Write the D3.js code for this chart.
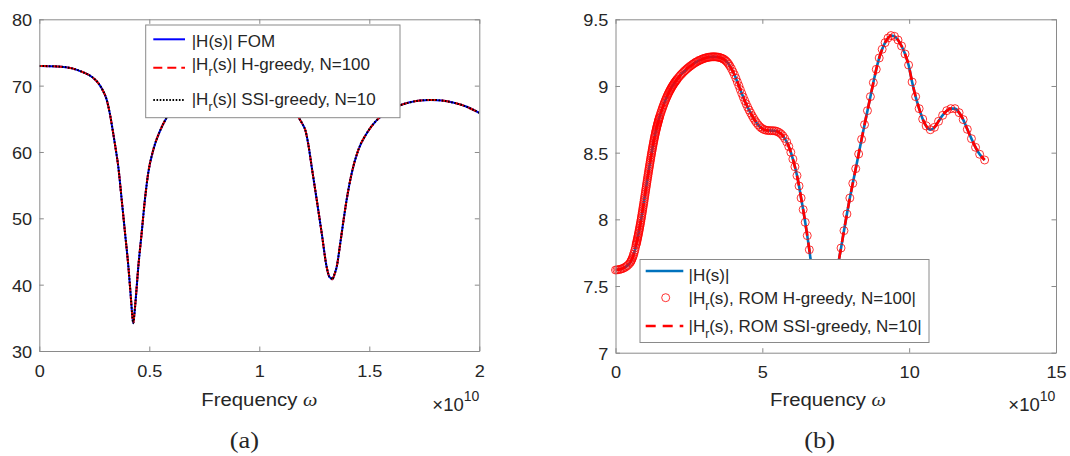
<!DOCTYPE html>
<html><head><meta charset="utf-8">
<script src="https://cdn.jsdelivr.net/npm/d3@7"></script>
<style>
body{margin:0;background:#fff}
svg{display:block}
text{font-family:"Liberation Sans",Arial,Helvetica,sans-serif;fill:#262626}
</style>
</head><body>
<svg id="c" width="1070" height="456"></svg>
<script>
// ---------- DATA (frequency in units of 1e10) ----------
// (a) |H(s)|: FOM, H-greedy N=100 and SSI-greedy N=10 coincide
const freqA = [0,0.05,0.10,0.15,0.20,0.24,0.27,0.29,0.306,0.32,0.336,0.348,0.359,0.3745,0.39,0.405,0.417,0.422,0.427,0.432,0.438,0.45,0.465,0.48,0.495,0.518,0.549,0.579,0.61,0.65,0.72,0.80,0.90,1.00,1.06,1.10,1.14,1.16,1.177,1.195,1.21,1.222,1.238,1.261,1.284,1.306,1.318,1.325,1.332,1.342,1.352,1.367,1.382,1.397,1.42,1.45,1.488,1.534,1.58,1.63,1.68,1.73,1.78,1.83,1.88,1.94,2.00];
const fomA = [72.95,72.93,72.85,72.60,72.00,71.30,70.30,69.20,67.90,65.90,62.80,60.30,57.80,52.80,47.70,42.70,37.70,35.60,34.20,35.50,37.70,42.70,47.70,52.80,56.80,60.30,63.20,65.20,66.80,68.30,69.50,70.00,70.10,69.60,68.90,68.10,67.20,66.40,65.30,64.30,63.20,61.30,57.80,52.80,47.70,42.70,41.20,41.00,40.80,41.60,42.70,46.00,49.50,52.80,56.80,60.30,62.80,64.80,66.00,66.90,67.45,67.75,67.85,67.75,67.45,66.85,65.90];
const hGreedyA = fomA;
const ssiA = fomA;

// (b) |H(s)|: FOM line, H-greedy markers, SSI-greedy dashed coincide
const freqB = [
 0,0.05,0.10,0.15,0.20,0.25,0.30,0.35,0.40,0.45,0.50,
 0.52,0.54,0.56,0.58,0.60,0.62,0.64,0.66,0.68,0.70,
 0.71,0.72,0.73,0.74,0.75,0.76,0.77,0.78,0.79,0.80,
 0.81,0.82,0.83,0.84,0.85,0.86,0.87,0.88,0.89,0.90,
 0.91,0.92,0.93,0.94,0.95,0.96,0.97,0.98,0.99,1.00,
 1.01,1.02,1.03,1.04,1.05,1.06,1.07,1.08,1.09,1.10,
 1.11,1.12,1.13,1.14,1.15,1.16,1.17,1.18,1.19,1.20,
 1.21,1.22,1.23,1.24,1.25,1.26,1.27,1.28,1.29,1.30,
 1.31,1.32,1.33,1.34,1.35,1.36,1.37,1.38,1.39,1.40,
 1.41,1.42,1.43,1.44,1.45,1.46,1.47,1.48,1.49,1.50,
 1.52,1.54,1.56,1.58,1.60,1.62,1.64,1.66,1.68,1.70,
 1.72,1.74,1.76,1.78,1.80,1.82,1.84,1.86,1.88,1.90,
 1.92,1.94,1.96,1.98,2.00,2.02,2.04,2.06,2.08,2.10,
 2.14,2.18,2.22,2.26,2.30,2.34,2.38,2.42,2.46,2.50,
 2.54,2.58,2.62,2.66,2.70,2.74,2.78,2.82,2.86,2.90,
 2.94,2.98,3.02,3.06,3.10,3.14,3.18,3.22,3.26,3.30,
 3.34,3.38,3.42,3.46,3.50,3.54,3.58,3.62,3.66,3.70,
 3.74,3.78,3.82,3.86,
 3.90,3.95,4.00,4.05,4.10,4.15,4.20,4.25,4.30,4.35,4.40,4.45,4.50,4.55,4.60,4.65,4.70,4.75,4.80,
 4.86,4.92,4.98,5.04,5.10,5.16,5.22,5.28,5.34,5.40,5.46,5.52,5.58,5.64,5.70,5.76,
 5.83,5.90,5.97,6.04,6.11,6.18,6.25,6.32,6.39,6.46,6.53,6.60,6.67,6.74,6.81,
 6.90,7.00,7.10,7.20,7.30,7.40,7.50,
 7.58,7.68,7.78,7.88,7.98,8.08,8.18,8.28,8.38,8.48,8.58,8.68,8.78,8.88,8.98,9.08,9.18,9.28,9.38,
 9.50,9.62,9.74,9.86,9.98,10.10,10.22,10.34,10.46,10.58,10.72,10.86,11.00,11.14,11.28,11.42,11.56,11.70,11.84,11.98,12.12,12.26,12.40,12.57];
const fomB = [
 7.620,7.621,7.623,7.625,7.628,7.632,7.637,7.644,7.652,7.662,7.675,
 7.683,7.692,7.701,7.712,7.724,7.737,7.753,7.770,7.788,7.808,
 7.817,7.827,7.837,7.847,7.857,7.868,7.878,7.889,7.900,7.912,
 7.923,7.935,7.947,7.959,7.971,7.984,7.997,8.010,8.023,8.037,
 8.050,8.064,8.078,8.092,8.106,8.120,8.134,8.149,8.163,8.178,
 8.192,8.207,8.221,8.236,8.250,8.265,8.279,8.294,8.308,8.322,
 8.336,8.350,8.364,8.378,8.391,8.405,8.418,8.432,8.445,8.459,
 8.472,8.485,8.497,8.510,8.522,8.535,8.547,8.559,8.571,8.583,
 8.594,8.606,8.616,8.627,8.637,8.648,8.658,8.668,8.677,8.686,
 8.695,8.704,8.712,8.721,8.729,8.737,8.745,8.753,8.760,8.768,
 8.782,8.796,8.809,8.822,8.835,8.847,8.859,8.871,8.882,8.893,
 8.904,8.914,8.924,8.934,8.943,8.952,8.961,8.969,8.977,8.985,
 8.993,9.000,9.007,9.014,9.021,9.027,9.033,9.039,9.045,9.051,
 9.062,9.073,9.083,9.092,9.101,9.110,9.118,9.126,9.134,9.141,
 9.148,9.154,9.161,9.167,9.173,9.178,9.183,9.188,9.192,9.196,
 9.200,9.204,9.207,9.210,9.212,9.214,9.216,9.217,9.218,9.219,
 9.219,9.219,9.218,9.217,9.216,9.214,9.211,9.208,9.204,9.199,
 9.192,9.184,9.174,9.162,
 9.148,9.129,9.107,9.084,9.058,9.030,9.002,8.973,8.944,8.917,8.890,8.865,8.841,8.819,8.798,8.778,8.759,8.741,8.725,
 8.708,8.694,8.683,8.675,8.670,8.667,8.666,8.665,8.665,8.664,8.662,8.657,8.650,8.640,8.626,8.607,
 8.580,8.546,8.503,8.452,8.394,8.328,8.250,8.160,8.073,7.978,7.878,7.772,7.655,7.540,7.430,
 7.330,7.250,7.210,7.220,7.290,7.400,7.540,
 7.660,7.785,7.915,8.040,8.160,8.270,8.380,8.490,8.600,8.710,8.815,8.920,9.025,9.125,9.210,9.275,9.325,9.360,9.378,
 9.372,9.345,9.300,9.240,9.157,9.030,8.920,8.830,8.752,8.700,8.672,8.690,8.735,8.780,8.815,8.830,8.830,8.800,8.748,8.675,8.605,8.540,8.488,8.445];
const hGreedyB = fomB;
const ssiB = fomB;

const xTicksA = [0,0.5,1,1.5,2];
const yTicksA = [30,40,50,60,70,80];
const xTicksB = [0,5,10,15];
const yTicksB = [7,7.5,8,8.5,9,9.5];

// ---------- DRAW ----------
const svg = d3.select('#c');
const AX = '#8a8a8a';
const SERIF = '"Liberation Serif","Times New Roman",serif';

function axes(g, x, y, xt, yt, padX) {
  const [x0, x1] = x.range(), [y0, y1] = y.range();
  const st = s => s.call(a => a.selectAll('path,line').attr('stroke', AX).attr('stroke-width', 1))
                   .call(a => a.selectAll('text').attr('fill', '#262626').style('font-size', '16.5px').attr('transform', 'scale(1.1,1)'));
  g.append('g').attr('transform', `translate(0,${y0})`)
    .call(d3.axisBottom(x).tickValues(xt).tickSizeInner(-4.5).tickSizeOuter(0).tickPadding(padX).tickFormat(d => String(d))).call(st);
  g.append('g').attr('transform', `translate(0,${y1})`)
    .call(d3.axisTop(x).tickValues(xt).tickSizeInner(-4.5).tickSizeOuter(0).tickFormat('')).call(st);
  g.append('g').attr('transform', `translate(${x0},0)`)
    .call(d3.axisLeft(y).tickValues(yt).tickSizeInner(-4.5).tickSizeOuter(0).tickPadding(6.5).tickFormat(d => String(d))).call(st)
    .selectAll('text').attr('dy', '0.4em');
  g.append('g').attr('transform', `translate(${x1},0)`)
    .call(d3.axisRight(y).tickValues(yt).tickSizeInner(-4.5).tickSizeOuter(0).tickFormat('')).call(st);
  g.selectAll('.domain').attr('fill', 'none');
}

// text placed at (x,y) with slight horizontal stretch like the reference
function sText(x, y, sx) {
  return svg.append('text').attr('transform', `translate(${x},${y}) scale(${sx},1)`);
}

function xLabel(cx, xEnd) {
  const t = sText(cx, 405.5, 1.07).attr('text-anchor', 'middle').style('font-size', '19px');
  t.append('tspan').text('Frequency ');
  t.append('tspan').style('font-family', SERIF).style('font-style', 'italic').text('ω');
  const e = sText(xEnd, 410.5, 1.0).attr('text-anchor', 'end').style('font-size', '18.5px');
  e.append('tspan').text('×10');
  e.append('tspan').attr('dy', -10).style('font-size', '14px').text('10');
}

function hrText(t, rest) {
  t.append('tspan').text('|H');
  t.append('tspan').attr('dy', 6).style('font-size', '12px').text('r');
  t.append('tspan').attr('dy', -6).text(rest);
}

// ===== (a) =====
const xA = d3.scaleLinear().domain([0, 2]).range([39.3, 479.3]);
const yA = d3.scaleLinear().domain([30, 80]).range([351, 19.3]);
const gA = svg.append('g');
svg.append('clipPath').attr('id', 'clipA').append('rect')
  .attr('x', 39.3).attr('y', 19.3).attr('width', 440).attr('height', 331.7);
const ptsA = freqA.map((f, i) => i);
const lineA = arr => d3.line().x(i => xA(freqA[i])).y(i => yA(arr[i])).curve(d3.curveMonotoneX)(ptsA);
const pA = gA.append('g').attr('clip-path', 'url(#clipA)');
pA.append('path').attr('d', lineA(fomA)).attr('fill', 'none').attr('stroke', '#0000ff').attr('stroke-width', 2);
pA.append('path').attr('d', lineA(hGreedyA)).attr('fill', 'none').attr('stroke', '#ff0000').attr('stroke-width', 2).attr('stroke-dasharray', '9,5');
pA.append('path').attr('d', lineA(ssiA)).attr('fill', 'none').attr('stroke', '#000').attr('stroke-width', 2).attr('stroke-dasharray', '1.6,1.6');
axes(gA, xA, yA, xTicksA, yTicksA, 14.5);
xLabel(259.3, 479.3);
sText(244.3, 448, 1.1).attr('text-anchor', 'middle')
  .style('font-family', SERIF).style('font-size', '24px').attr('fill', '#000').text('(a)');

// legend (a)
const lgA = svg.append('g');
lgA.append('rect').attr('x', 145.7).attr('y', 25).attr('width', 254.3).attr('height', 92.7)
  .attr('fill', '#fff').attr('stroke', AX).attr('stroke-width', 1);
lgA.append('line').attr('x1', 153.3).attr('x2', 185).attr('y1', 39.3).attr('y2', 39.3).attr('stroke', '#0000ff').attr('stroke-width', 2);
lgA.append('line').attr('x1', 153.3).attr('x2', 185).attr('y1', 67.7).attr('y2', 67.7).attr('stroke', '#ff0000').attr('stroke-width', 2).attr('stroke-dasharray', '9,5');
lgA.append('line').attr('x1', 153.3).attr('x2', 185).attr('y1', 100).attr('y2', 100).attr('stroke', '#000').attr('stroke-width', 2).attr('stroke-dasharray', '1.6,1.6');
lgA.append('text').attr('x', 191.7).attr('y', 46.7).style('font-size', '17px').attr('fill', '#000').text('|H(s)| FOM');
hrText(lgA.append('text').attr('x', 191.7).attr('y', 70).style('font-size', '17px').attr('fill', '#000'), '(s)| H-greedy, N=100');
hrText(lgA.append('text').attr('x', 191.7).attr('y', 105).style('font-size', '17px').attr('fill', '#000'), '(s)| SSI-greedy, N=10');

// ===== (b) =====
const xB = d3.scaleLinear().domain([0, 15]).range([615.5, 1056]);
const yB = d3.scaleLinear().domain([7, 9.5]).range([352.7, 19.3]);
const gB = svg.append('g');
svg.append('clipPath').attr('id', 'clipB').append('rect')
  .attr('x', 615.5).attr('y', 19.3).attr('width', 440.5).attr('height', 333.4);
const ptsB = freqB.map((f, i) => i);
const lineB = arr => d3.line().x(i => xB(freqB[i])).y(i => yB(arr[i])).curve(d3.curveMonotoneX)(ptsB);
const pB = gB.append('g');
pB.append('path').attr('clip-path', 'url(#clipB)').attr('d', lineB(fomB)).attr('fill', 'none').attr('stroke', '#0072bd').attr('stroke-width', 2.6);
pB.append('g').selectAll('circle').data(ptsB).join('circle')
  .attr('cx', i => xB(freqB[i])).attr('cy', i => yB(hGreedyB[i])).attr('r', 4)
  .attr('fill', 'none').attr('stroke', '#ff0000').attr('stroke-width', 0.8);
pB.append('path').attr('clip-path', 'url(#clipB)').attr('d', lineB(ssiB)).attr('fill', 'none').attr('stroke', '#ff0000').attr('stroke-width', 2.6).attr('stroke-dasharray', '10,7');
axes(gB, xB, yB, xTicksB, yTicksB, 13.5);
xLabel(828, 1055.3);
sText(819.7, 448, 1.1).attr('text-anchor', 'middle')
  .style('font-family', SERIF).style('font-size', '24px').attr('fill', '#000').text('(b)');

// legend (b)
const lgB = svg.append('g');
lgB.append('rect').attr('x', 640).attr('y', 259.5).attr('width', 289).attr('height', 83)
  .attr('fill', '#fff').attr('stroke', AX).attr('stroke-width', 1);
lgB.append('line').attr('x1', 645.7).attr('x2', 683.3).attr('y1', 271).attr('y2', 271).attr('stroke', '#0072bd').attr('stroke-width', 2.6);
lgB.append('circle').attr('cx', 665.7).attr('cy', 297.7).attr('r', 4).attr('fill', 'none').attr('stroke', '#ff0000').attr('stroke-width', 0.8);
lgB.append('line').attr('x1', 645.7).attr('x2', 683.3).attr('y1', 326).attr('y2', 326).attr('stroke', '#ff0000').attr('stroke-width', 2.6).attr('stroke-dasharray', '10,7');
lgB.append('text').attr('x', 688.5).attr('y', 280.7).style('font-size', '17px').attr('fill', '#000').text('|H(s)|');
hrText(lgB.append('text').attr('x', 688.5).attr('y', 304).style('font-size', '17px').attr('fill', '#000'), '(s), ROM H-greedy, N=100|');
hrText(lgB.append('text').attr('x', 688.5).attr('y', 331.7).style('font-size', '17px').attr('fill', '#000'), '(s), ROM SSI-greedy, N=10|');
</script>
</body></html>
